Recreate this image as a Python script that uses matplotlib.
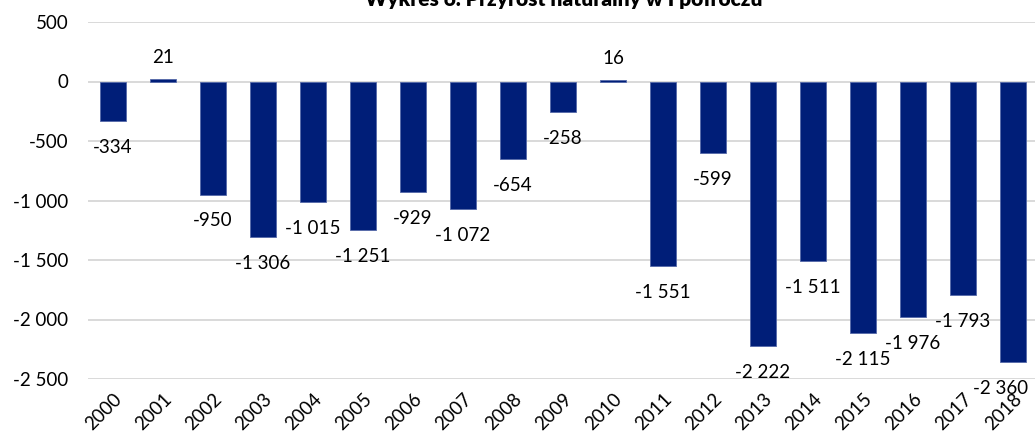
import matplotlib
matplotlib.use('Agg')
import matplotlib.pyplot as plt
from matplotlib.ticker import FuncFormatter

# data
years = [str(y) for y in range(2000, 2019)]
values = [-334, 21, -950, -1306, -1015, -1251, -929, -1072, -654, -258,
          16, -1551, -599, -2222, -1511, -2115, -1976, -1793, -2360]
title = "Wykres 6. Przyrost naturalny w I półroczu"

BAR = "#001E78"
EDGE = "#5468a8"
GRID = "#d9d9d9"
FONT = ["Lato", "DejaVu Sans"]

plt.rcParams['font.family'] = FONT


def fmt(v):
    s = f"{abs(int(v)):,}".replace(",", " ")
    return ("-" if v < 0 else "") + s


fig = plt.figure(figsize=(10.35, 4.37), dpi=100)
ax = fig.add_axes([88 / 1035, 58 / 437, 950 / 1035, 357 / 437])

x = range(len(years))
ax.bar(x, values, width=0.53, color=BAR, edgecolor=EDGE, linewidth=0.6, zorder=3)

ax.set_xlim(-0.5, len(years) - 0.5)
ax.set_ylim(-2500, 500)
ax.set_yticks(range(-2500, 501, 500))
ax.yaxis.set_major_formatter(FuncFormatter(lambda v, p: fmt(v)))
ax.set_xticks(list(x))
ax.set_xticklabels(years, rotation=45, ha='right', rotation_mode='anchor')
ax.tick_params(axis='both', length=0, labelsize=13.5, colors='#000000')
ax.tick_params(axis='y', pad=14)
ax.tick_params(axis='x', pad=8)
ax.grid(axis='y', color=GRID, lw=1.4, zorder=0)
for s in ax.spines.values():
    s.set_visible(False)

# data labels
for i, v in enumerate(values):
    dy = 15.5 if v > 0 else -19
    dx = -9 if i == len(values) - 1 else 0
    ax.annotate(fmt(v), (i, v), xytext=(dx, dy), textcoords='offset points',
                ha='center', va='center', fontsize=13.5, color='#000000',
                annotation_clip=False)

# title (clipped at the top in the original)
fig.text(564 / 1035, 1 - 6 / 437, title, ha='center', va='baseline',
         fontsize=15, fontweight='heavy', color='#000000')

fig.savefig("out.png", dpi=100, facecolor='white')
